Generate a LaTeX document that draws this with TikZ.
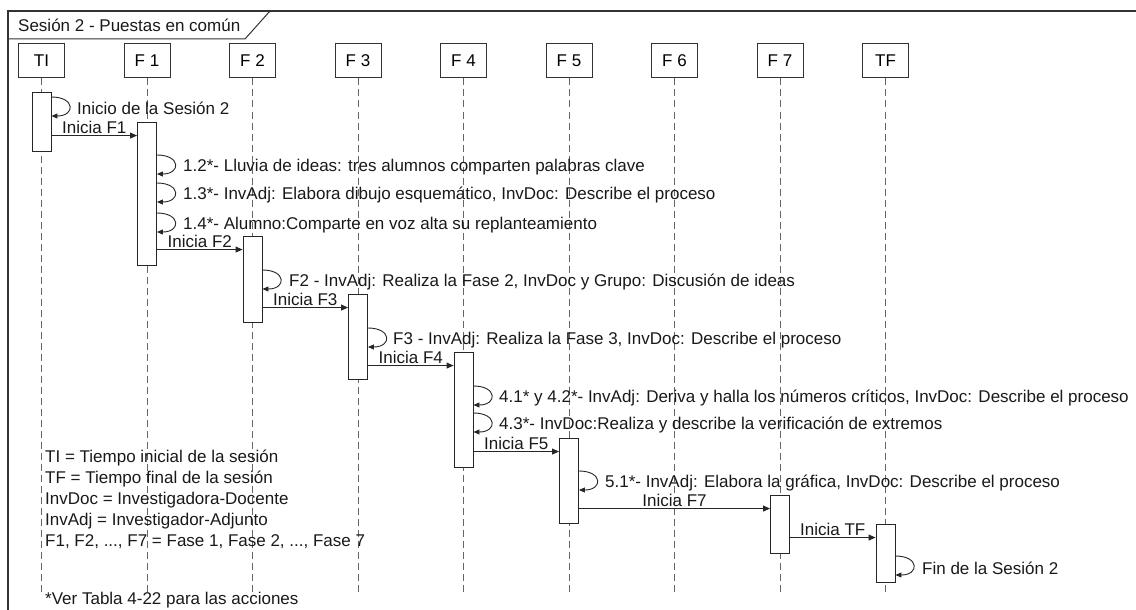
\documentclass[tikz,border=0pt]{standalone}
\usepackage{fontspec}
\setmainfont{Liberation Sans}
\usetikzlibrary{arrows.meta, positioning, calc}

\begin{document}
\begin{tikzpicture}[
  x=1pt, y=-1pt,
  node distance=58.5pt,
  font=\fontsize{17}{21}\selectfont,
  lifehead/.style={rectangle, draw=black!80, line width=1pt,
                   minimum width=46pt, minimum height=34pt, inner sep=0pt},
  actbar/.style={rectangle, draw=black!85, fill=white, line width=0.9pt,
                 minimum width=19pt, inner sep=0pt},
  lifeline/.style={draw=black!60, line width=0.9pt, dash pattern=on 7pt off 4pt},
  msg/.style={-{Triangle[length=7pt,width=6pt]}, line width=0.9pt, draw=black!85},
  selfmsg/.style={-{Triangle[length=6pt,width=5pt]}, line width=0.9pt, draw=black!85},
  lbl/.style={inner sep=1.5pt, text=black!90},
  actnote/.style={anchor=west, inner sep=0pt, text=black!90}
]
  \useasboundingbox (0,0) rectangle (1136,610);

  % frame
  \draw[line width=1.3pt, black!80] (8,610) -- (8,11) -- (1136,11);
  \draw[line width=1pt, black!80] (8,39) -- (245,39) -- (270,11);
  \node[actnote] (title) at (18,25) {Sesión 2 - Puestas en común};

  % lifeline heads
  \node[lifehead] (ti) at (41.5,61) {TI};
  \node[lifehead, right=of ti] (f1) {F 1};
  \node[lifehead, right=of f1] (f2) {F 2};
  \node[lifehead, right=of f2] (f3) {F 3};
  \node[lifehead, right=of f3] (f4) {F 4};
  \node[lifehead, right=of f4] (f5) {F 5};
  \node[lifehead, right=of f5] (f6) {F 6};
  \node[lifehead, right=of f6] (f7) {F 7};
  \node[lifehead, right=of f7] (tf) {TF};

  \draw[lifeline] (ti.south) -- (ti |- 0,593);
  \draw[lifeline] (f1.south) -- (f1 |- 0,593);
  \draw[lifeline] (f2.south) -- (f2 |- 0,593);
  \draw[lifeline] (f3.south) -- (f3 |- 0,593);
  \draw[lifeline] (f4.south) -- (f4 |- 0,593);
  \draw[lifeline] (f5.south) -- (f5 |- 0,593);
  \draw[lifeline] (f6.south) -- (f6 |- 0,593);
  \draw[lifeline] (f7.south) -- (f7 |- 0,593);
  \draw[lifeline] (tf.south) -- (tf |- 0,593);

  % activation bars
  \node[actbar, minimum height=59pt]  (bti) at (ti |- 0,121.5) {};
  \node[actbar, minimum height=143pt] (bf1) at (f1 |- 0,193.5) {};
  \node[actbar, minimum height=86pt]  (bf2) at (f2 |- 0,279) {};
  \node[actbar, minimum height=85pt]  (bf3) at (f3 |- 0,336.5) {};
  \node[actbar, minimum height=115pt] (bf4) at (f4 |- 0,409.5) {};
  \node[actbar, minimum height=85pt]  (bf5) at (f5 |- 0,480.5) {};
  \node[actbar, minimum height=58pt]  (bf7) at (f7 |- 0,524) {};
  \node[actbar, minimum height=58pt]  (btf) at (tf |- 0,553) {};

  % actions
  \node[actnote] (a0)  at (77,108)  {Inicio de la Sesión 2};
  \node[actnote] (a12) at (183,167) {1.2*- Lluvia de ideas: tres alumnos comparten palabras clave};
  \node[actnote] (a13) at (183,195) {1.3*- InvAdj: Elabora dibujo esquemático, InvDoc: Describe el proceso};
  \node[actnote] (a14) at (183,225) {1.4*- Alumno:Comparte en voz alta su replanteamiento};
  \node[actnote] (a2)  at (289,282) {F2 - InvAdj: Realiza la Fase 2, InvDoc y Grupo: Discusión de ideas};
  \node[actnote] (a3)  at (393,340) {F3 - InvAdj: Realiza la Fase 3, InvDoc: Describe el proceso};
  \node[actnote] (a41) at (499,398) {4.1* y 4.2*- InvAdj: Deriva y halla los números críticos, InvDoc: Describe el proceso};
  \node[actnote] (a43) at (499,425) {4.3*- InvDoc:Realiza y describe la verificación de extremos};
  \node[actnote] (a51) at (605,483) {5.1*- InvAdj: Elabora la gráfica, InvDoc: Describe el proceso};
  \node[actnote] (aend) at (922,568) {Fin de la Sesión 2};

  \draw[selfmsg] ($(bti.east |- a0)+(0,-11)$)  .. controls +(24,0) and +(24,0) .. ++(0,19);
  \draw[selfmsg] ($(bf1.east |- a12)+(0,-12)$) .. controls +(24,0) and +(24,0) .. ++(0,19);
  \draw[selfmsg] ($(bf1.east |- a13)+(0,-12)$) .. controls +(24,0) and +(24,0) .. ++(0,19);
  \draw[selfmsg] ($(bf1.east |- a14)+(0,-12)$) .. controls +(24,0) and +(24,0) .. ++(0,19);
  \draw[selfmsg] ($(bf2.east |- a2)+(0,-12)$)  .. controls +(24,0) and +(24,0) .. ++(0,19);
  \draw[selfmsg] ($(bf3.east |- a3)+(0,-12)$)  .. controls +(24,0) and +(24,0) .. ++(0,19);
  \draw[selfmsg] ($(bf4.east |- a41)+(0,-12)$) .. controls +(24,0) and +(24,0) .. ++(0,19);
  \draw[selfmsg] ($(bf4.east |- a43)+(0,-12)$) .. controls +(24,0) and +(24,0) .. ++(0,19);
  \draw[selfmsg] ($(bf5.east |- a51)+(0,-12)$) .. controls +(24,0) and +(24,0) .. ++(0,19);
  \draw[selfmsg] ($(btf.east |- aend)+(0,-12)$) .. controls +(24,0) and +(24,0) .. ++(0,19);

  % messages
  \coordinate (m1) at ([yshift=-14pt]bf1.north west);
  \coordinate (m2) at ([yshift=-14pt]bf2.north west);
  \coordinate (m3) at ([yshift=-14pt]bf3.north west);
  \coordinate (m4) at ([yshift=-14pt]bf4.north west);
  \coordinate (m5) at ([yshift=-14pt]bf5.north west);
  \coordinate (m7) at ([yshift=-14pt]bf7.north west);
  \coordinate (mtf) at ([yshift=-14pt]btf.north west);
  \draw[msg] (bti.east |- m1) -- (m1) node[lbl, midway, above] {Inicia F1};
  \draw[msg] (bf1.east |- m2) -- (m2) node[lbl, midway, above] {Inicia F2};
  \draw[msg] (bf2.east |- m3) -- (m3) node[lbl, midway, above] {Inicia F3};
  \draw[msg] (bf3.east |- m4) -- (m4) node[lbl, midway, above] {Inicia F4};
  \draw[msg] (bf4.east |- m5) -- (m5) node[lbl, midway, above] {Inicia F5};
  \draw[msg] (bf5.east |- m7) -- (m7) node[lbl, midway, above] {Inicia F7};
  \draw[msg] (bf7.east |- mtf) -- (mtf) node[lbl, midway, above] {Inicia TF};

  % legend
  \node[actnote, anchor=north west, align=left] (legend) at (45,450)
    {TI = Tiempo inicial de la sesión\\
     TF = Tiempo final de la sesión\\
     InvDoc = Investigadora-Docente\\
     InvAdj = Investigador-Adjunto\\
     F1, F2, ..., F7 = Fase 1, Fase 2, ..., Fase 7};
  \node[actnote] (seetable) at (45,600) {*Ver Tabla 4-22 para las acciones};
\end{tikzpicture}
\end{document}
